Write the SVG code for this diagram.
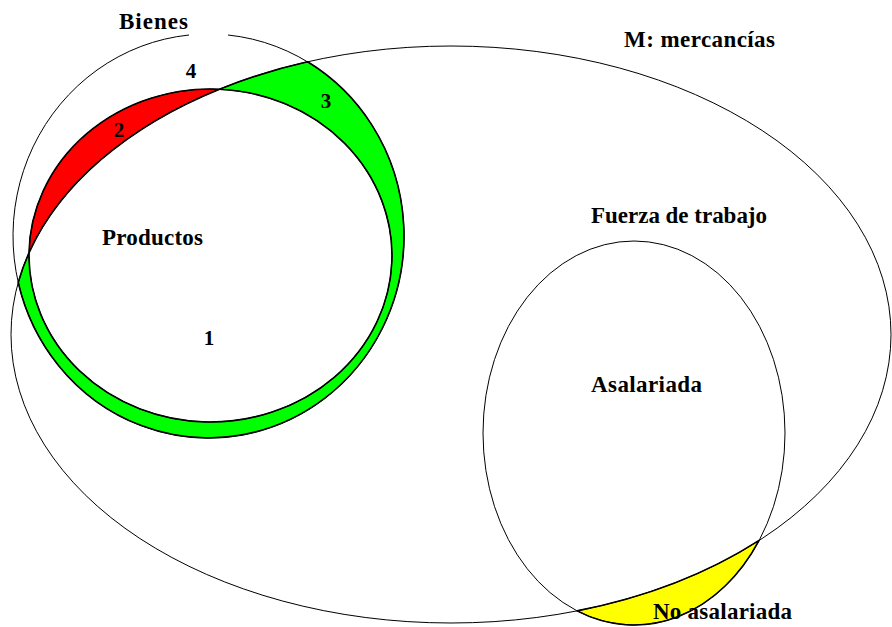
<svg xmlns="http://www.w3.org/2000/svg" width="892" height="627" viewBox="0 0 892 627">
<style>
.line{fill:none;stroke:#000;stroke-width:1}
.edge{stroke:#000;stroke-width:1.6;stroke-linejoin:round}
.lbl{font-family:"Liberation Serif","Times New Roman",serif;font-weight:bold;font-size:23px;fill:#000}
.num{font-family:"Liberation Serif","Times New Roman",serif;font-weight:bold;font-size:21px;fill:#000;text-anchor:middle}
</style>
<rect width="892" height="627" fill="#fff"/>
<g id="regions">
<path id="region-2" class="edge" fill="#ff0000" d="M29,252.8 A181.5,166.5 0 0 1 219.5,89.2 A440,288.5 0 0 0 29,252.8 Z"/>
<path id="region-3" class="edge" fill="#00ff00" d="M219.5,89.2 A440,288.5 0 0 1 307.6,61.8 A195.5,202 0 1 1 18.25,282.5 A440,288.5 0 0 1 29,252.8 A181.5,166.5 0 1 0 219.5,89.2 Z"/>
<path id="no-asalariada-region" class="edge" stroke-width="1.2" fill="#ffff00" d="M577,610.9 A440,288.5 0 0 0 759.1,540.4 A151,192 0 0 1 577,610.9 Z"/>
</g>
<g id="mercancias">
<ellipse class="line" cx="451" cy="334.5" rx="440" ry="288.5"/>
<text class="lbl" x="624" y="47" textLength="151">M: mercancías</text>
</g>
<g id="bienes">
<path class="line" d="M228,35 A195.5,202 0 1 1 189,35"/>
<text class="lbl" x="119" y="29" textLength="69">Bienes</text>
<text class="num" x="191" y="78">4</text>
</g>
<g id="productos">
<ellipse class="line" stroke-width="1.6" cx="210.5" cy="255.5" rx="181.5" ry="166.5"/>
<text class="lbl" x="102" y="245" textLength="101">Productos</text>
<text class="num" x="209" y="345">1</text>
<text class="num" x="119" y="137">2</text>
<text class="num" x="326" y="108">3</text>
</g>
<g id="fuerza-de-trabajo">
<ellipse class="line" cx="634" cy="433" rx="151" ry="192"/>
<text class="lbl" x="591" y="223" textLength="176">Fuerza de trabajo</text>
<text class="lbl" x="591" y="392" textLength="111">Asalariada</text>
<text class="lbl" x="653" y="619" textLength="139">No asalariada</text>
</g>
</svg>
